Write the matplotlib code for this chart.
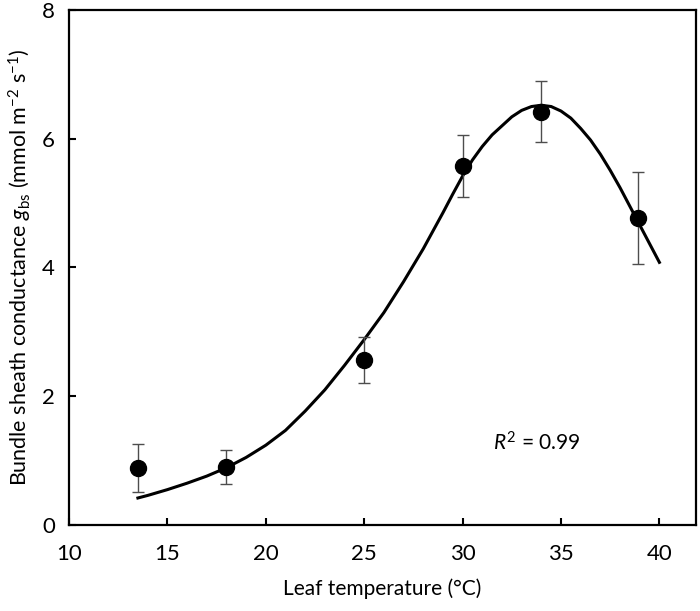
import matplotlib
matplotlib.use("Agg")
import matplotlib.pyplot as plt

plt.rcParams["font.family"] = ["Lato", "DejaVu Sans"]
plt.rcParams["mathtext.fontset"] = "custom"
plt.rcParams["mathtext.rm"] = "Lato"
plt.rcParams["mathtext.it"] = "Lato:italic"
plt.rcParams["mathtext.default"] = "regular"

# measured points (mean +/- error)
temp = [13.5, 18.0, 25.0, 30.0, 34.0, 38.9]
gbs = [0.89, 0.90, 2.56, 5.58, 6.42, 4.77]
gbs_err = [0.37, 0.26, 0.36, 0.48, 0.47, 0.71]

# fitted curve
fit_t = [13.5, 14, 15, 16, 17, 18, 19, 20, 21, 22, 23, 24, 25, 26, 27, 28,
         29, 29.5, 30, 30.5, 31, 31.5, 32, 32.5, 33, 33.5, 34, 34.5, 35,
         35.5, 36, 36.5, 37, 37.5, 38, 38.5, 39, 39.5, 40]
fit_g = [0.42, 0.46, 0.55, 0.65, 0.76, 0.89, 1.05, 1.24, 1.47, 1.77, 2.10,
         2.48, 2.88, 3.30, 3.78, 4.29, 4.85, 5.14, 5.42, 5.67, 5.88, 6.06,
         6.20, 6.34, 6.44, 6.50, 6.52, 6.50, 6.43, 6.32, 6.16, 5.98, 5.76,
         5.51, 5.24, 4.95, 4.66, 4.37, 4.08]

fig = plt.figure(figsize=(7.0, 6.11), dpi=100)
ax = fig.add_axes([0.0986, 0.1407, 0.8954, 0.843])

ax.plot(fit_t, fit_g, color="black", lw=2.2, zorder=2)
ax.errorbar(temp, gbs, yerr=gbs_err, fmt="o", color="black", ms=11.5,
            ecolor="#4d4d4d", elinewidth=1.0, capsize=4.5, capthick=1.0, zorder=3)

ax.text(31.55, 1.27, "$\\mathit{R}^2$ = 0.99", fontsize=15, va="center", ha="left")

ax.set_xlim(10, 41.85)
ax.set_ylim(0, 8)
ax.set_xticks([10, 15, 20, 25, 30, 35, 40])
ax.set_yticks([0, 2, 4, 6, 8])
ax.tick_params(axis="both", direction="in", length=5, width=1.5, labelsize=16)
ax.tick_params(axis="x", pad=14)
ax.tick_params(axis="y", pad=10)
for s in ax.spines.values():
    s.set_linewidth(1.6)

ax.set_xlabel("Leaf temperature (°C)", fontsize=15, labelpad=10)
ax.set_ylabel("Bundle sheath conductance $\\mathit{g}_{\\rm bs}$ (mmol m$^{-2}$ s$^{-1}$)",
              fontsize=15.5, labelpad=6)

fig.savefig("out.png", dpi=100)
